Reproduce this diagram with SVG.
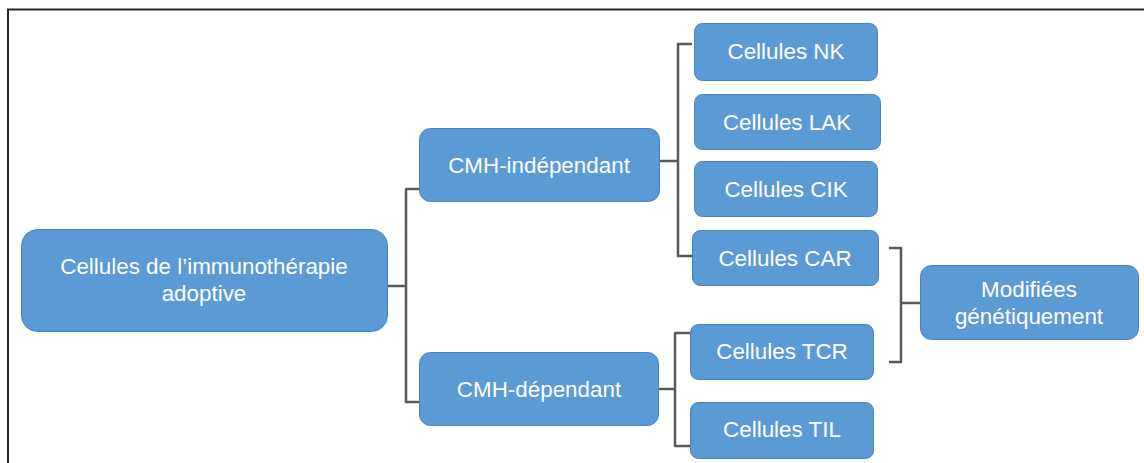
<svg xmlns="http://www.w3.org/2000/svg" width="1144" height="463" viewBox="0 0 1144 463">
<style>
.box{fill:#5B9BD5;stroke:#4A82B8;stroke-width:1}
.t{fill:#FFFFFF;font-family:"Liberation Sans",Arial,sans-serif;font-size:22.4px;text-anchor:middle}
.c{fill:none;stroke:#595959;stroke-width:2.5;stroke-linejoin:round}
</style>
<rect x="0" y="0" width="1144" height="463" fill="#FFFFFF"/>
<path d="M8,463 V9.5 H1144" fill="none" stroke="#262626" stroke-width="2"/>
<g id="connectors">
<path class="c" d="M388,286 H406"/>
<path class="c" d="M419,189 H406 V402 H419"/>
<path class="c" d="M660,161 H678"/>
<path class="c" d="M692,44 H678 V256 H692"/>
<path class="c" d="M659,389 H675"/>
<path class="c" d="M690,333 H675 V446 H690"/>
<path class="c" d="M889,248 H901 V362 H889"/>
<path class="c" d="M901,303 H920"/>
</g>
<g id="root">
<rect class="box" x="21.5" y="229.5" width="366" height="102" rx="16"/>
<text class="t" x="204" y="274">Cellules de l’immunothérapie</text>
<text class="t" x="204" y="301">adoptive</text>
</g>
<g id="cmh-independant">
<rect class="box" x="419.5" y="128.5" width="240" height="73" rx="11"/>
<text class="t" x="539" y="173">CMH-indépendant</text>
</g>
<g id="cmh-dependant">
<rect class="box" x="419.5" y="352.5" width="239" height="73" rx="11"/>
<text class="t" x="539" y="397">CMH-dépendant</text>
</g>
<g id="nk">
<rect class="box" x="694.5" y="23.5" width="183" height="57" rx="8"/>
<text class="t" x="786" y="59">Cellules NK</text>
</g>
<g id="lak">
<rect class="box" x="694.5" y="94.5" width="186" height="55" rx="8"/>
<text class="t" x="787" y="130">Cellules LAK</text>
</g>
<g id="cik">
<rect class="box" x="694.5" y="161.5" width="183" height="55" rx="8"/>
<text class="t" x="786" y="197">Cellules CIK</text>
</g>
<g id="car">
<rect class="box" x="692.5" y="230.5" width="186" height="55" rx="8"/>
<text class="t" x="785" y="266">Cellules CAR</text>
</g>
<g id="tcr">
<rect class="box" x="690.5" y="324.5" width="183" height="55" rx="8"/>
<text class="t" x="782" y="359">Cellules TCR</text>
</g>
<g id="til">
<rect class="box" x="690.5" y="402.5" width="183" height="56" rx="8"/>
<text class="t" x="782" y="437">Cellules TIL</text>
</g>
<g id="modifiees">
<rect class="box" x="920.5" y="265.5" width="218" height="74" rx="11"/>
<text class="t" x="1029" y="297">Modifiées</text>
<text class="t" x="1029" y="324">génétiquement</text>
</g>
</svg>
